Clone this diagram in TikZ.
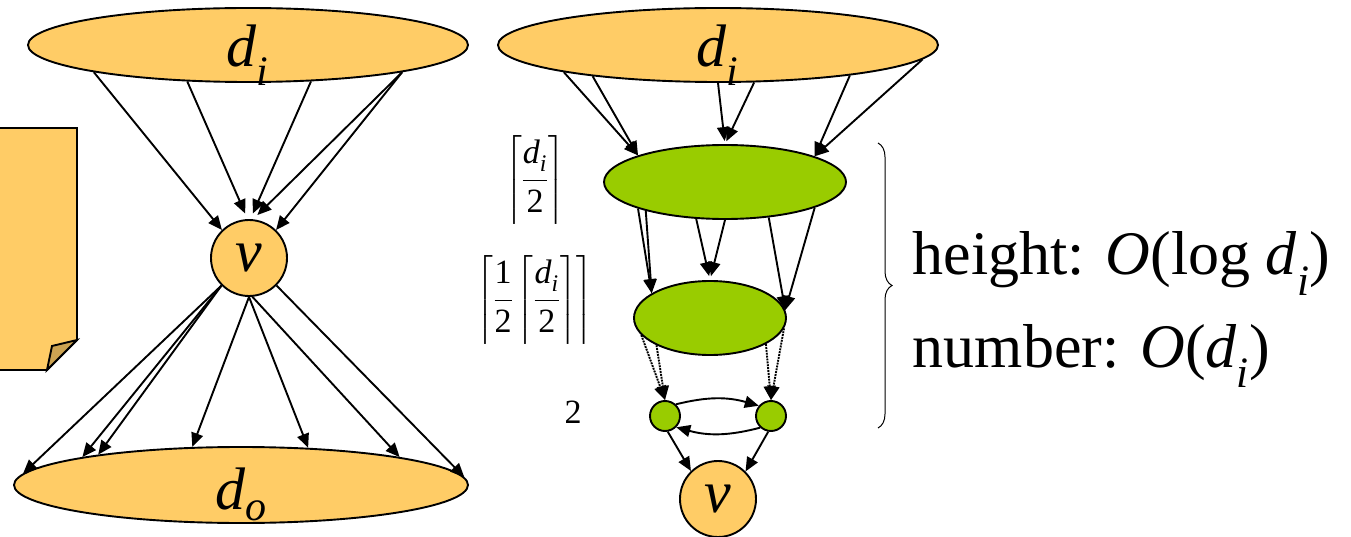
\documentclass[tikz,border=0pt]{standalone}
\usepackage{amsmath}
\usepackage{fontspec}
\setmainfont{Liberation Serif}
\usepackage{tikz}
\usetikzlibrary{arrows.meta,shapes.geometric,decorations.pathreplacing}
\usepackage{xcolor}
\definecolor{nodeorange}{HTML}{FFCC66}
\definecolor{nodegreen}{HTML}{99CC00}
\definecolor{folddark}{HTML}{CCA352}
\newcommand{\dvar}[1]{\textit{d}\textsubscript{\textit{#1}}}

\begin{document}
\begin{tikzpicture}[x=1pt, y=-1pt, line width=1.9pt,
  ell/.style={ellipse, draw, fill=nodeorange, inner sep=0pt},
  grn/.style={ellipse, draw, fill=nodegreen, inner sep=0pt},
  vcirc/.style={circle, draw, inner sep=0pt},
  arr/.style={-{Triangle[length=14pt,width=12pt]}},
  dotarr/.style={arr, densely dotted},
  big/.style={font=\fontsize{60}{70}\selectfont},
  bigger/.style={font=\fontsize{62}{72}\selectfont},
  lvtext/.style={font=\fontsize{34}{42}\selectfont}]
\useasboundingbox (0,0) rectangle (1351,537);
% folded note on the left
\fill[nodeorange] (0,128) -- (77,128) -- (77,340) -- (47,370) -- (0,370) -- cycle;
\draw (0,128) -- (77,128) -- (77,340) -- (47,370) -- (0,370);
\filldraw[fill=folddark] (77,340) -- (52,346) -- (47,370) -- cycle;
% left graph
\node[ell, minimum width=440, minimum height=74] (diL) at (248,45) {};
\node[big] (diLtxt) at (248,55) {\dvar{i}};
\node[vcirc, fill=nodeorange, minimum size=76, big] (vL) at (249,258) {\textit{v}};
\node[ell, minimum width=454, minimum height=76] (doL) at (241,485) {};
\node[big] (doLtxt) at (241,494) {\dvar{o}};
\draw[arr] (diL.-170) -- (vL.134);
\draw[arr, shorten >=6pt] (diL.-149) -- (vL.92);
\draw[arr, shorten >=6pt] (diL.-30) -- (vL.88);
\draw[arr, shorten >=6pt] (diL.-10) -- (vL.84);
\draw[arr] (diL.-10) -- (vL.46);
\draw[arr] (vL.-135) -- (doL.177);
\draw[arr] (vL.-135) -- (doL.170);
\draw[arr] (vL.-135) -- (doL.168);
\draw[arr] (vL.-90) -- (doL.142);
\draw[arr] (vL.-90) -- (doL.29);
\draw[arr] (vL.-85) -- (doL.10);
\draw[arr] (vL.-45) -- (doL.2);
% right graph
\node[ell, minimum width=440, minimum height=74] (diR) at (718,45) {};
\node[big] (diRtxt) at (718,55) {\dvar{i}};
\node[grn, minimum width=242, minimum height=74] (gA) at (725,182) {};
\node[grn, minimum width=152, minimum height=74] (gB) at (710,318) {};
\node[vcirc, fill=nodegreen, minimum size=30] (sL) at (665,416) {};
\node[vcirc, fill=nodegreen, minimum size=30] (sR) at (771,416) {};
\node[vcirc, fill=nodeorange, minimum size=76, big] (vR) at (718,499) {\textit{v}};
\draw[arr] (diR.-170) -- (gA.163);
\draw[arr] (diR.-166) -- (gA.163);
\draw[arr, shorten >=3pt] (diR.-90) -- (gA.90);
\draw[arr, shorten >=3pt] (diR.-46) -- (gA.90);
\draw[arr] (diR.-13) -- (gA.16);
\draw[arr] (diR.-4) -- (gA.16);
\draw[arr] (gA.-163) -- (gB.157);
\draw[arr] (gA.-160) -- (gB.157);
\draw[arr, shorten >=4pt] (gA.-128) -- (gB.90);
\draw[arr, shorten >=4pt] (gA.-90) -- (gB.90);
\draw[arr] (gA.-39) -- (gB.6);
\draw[arr] (gA.-16) -- (gB.6);
\draw[dotarr] (gB.-166) -- (sL.north);
\draw[dotarr] (gB.-153) -- (sL.north);
\draw[dotarr] (gB.-25) -- (sR.north);
\draw[dotarr] (gB.-8) -- (sR.north);
\draw[arr] (sL.47) to[bend left=15] (sR.140);
\draw[arr] (sR.-133) to[bend left=15] (sL.-45);
\draw[arr] (sL.-80) -- (vR.134);
\draw[arr] (sR.-100) -- (vR.45);
% level sizes
\node[lvtext] (lvA) at (535,180) {$\left\lceil\dfrac{\strut\dvar{i}}{\strut\text{2}}\right\rceil$};
\node[lvtext] (lvB) at (535,300) {$\left\lceil\dfrac{\strut\text{1}}{\strut\text{2}}\left\lceil\dfrac{\strut\dvar{i}}{\strut\text{2}}\right\rceil\right\rceil$};
\node[lvtext] (lvC) at (573,412) {2};
% brace and bounds
\coordinate (brTop) at (878,143);
\coordinate (brBot) at (878,428);
\draw[line width=1pt, decorate, decoration={brace, amplitude=14pt}] (brTop) -- (brBot);
\node[bigger, anchor=base west, inner sep=0pt] (hgt) at (912,275) {height: \textit{O}(log \dvar{i})};
\node[bigger, anchor=base west, inner sep=0pt] (num) at (912,367) {number: \textit{O}(\dvar{i})};
\end{tikzpicture}
\end{document}
